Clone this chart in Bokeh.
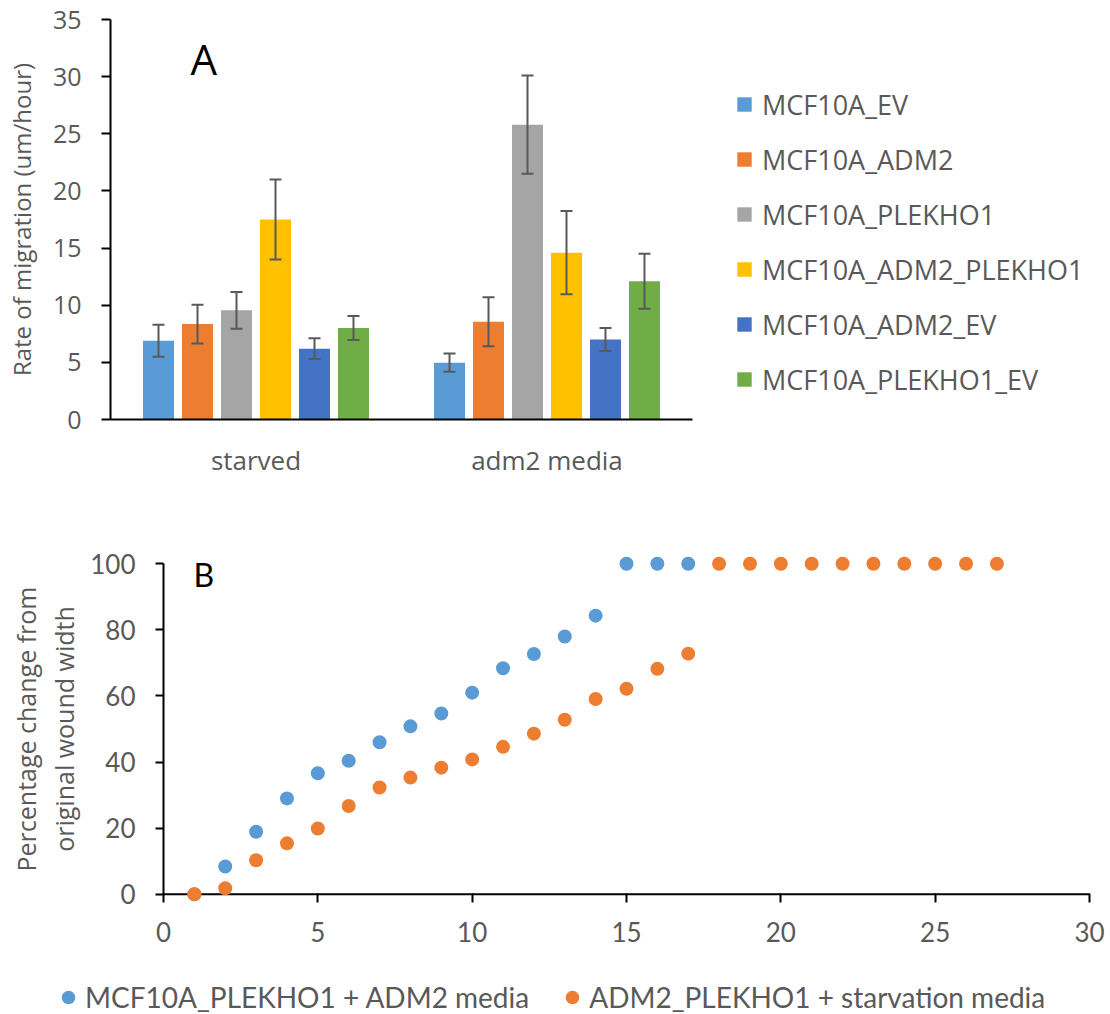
from bokeh.plotting import figure
from bokeh.models import (ColumnDataSource, FactorRange, Range1d, Legend, LegendItem,
                          Whisker, TeeHead, Label, LinearAxis, FixedTicker,
                          SingleIntervalTicker, Span)
from bokeh.layouts import column
from bokeh.transform import dodge
from bokeh.embed import file_html
from bokeh.resources import INLINE

# ---- Panel A: migration rate per cell line and medium ----
conditions = ["starved", "adm2 media"]
cell_lines = ["MCF10A_EV", "MCF10A_ADM2", "MCF10A_PLEKHO1",
              "MCF10A_ADM2_PLEKHO1", "MCF10A_ADM2_EV", "MCF10A_PLEKHO1_EV"]
bar_colors = ["#5B9BD5", "#ED7D31", "#A5A5A5", "#FFC000", "#4472C4", "#70AD47"]
rate_starved = [6.9, 8.35, 9.55, 17.5, 6.2, 8.0]
err_starved = [1.4, 1.7, 1.6, 3.5, 0.9, 1.05]
rate_adm2 = [4.97, 8.55, 25.8, 14.6, 7.0, 12.1]
err_adm2 = [0.8, 2.15, 4.3, 3.65, 1.0, 2.4]

# ---- Panel B: wound closure over time ----
time_plekho1 = [1, 2, 3, 4, 5, 6, 7, 8, 9, 10, 11, 12, 13, 14, 15, 16, 17]
closure_plekho1 = [0, 8.4, 18.9, 29.0, 36.6, 40.4, 46.0, 50.8, 54.7, 61.0,
                   68.4, 72.7, 78.0, 84.3, 100, 100, 100]
time_adm2 = [1, 2, 3, 4, 5, 6, 7, 8, 9, 10, 11, 12, 13, 14, 15, 16, 17,
             18, 19, 20, 21, 22, 23, 24, 25, 26, 27]
closure_adm2 = [0, 1.8, 10.3, 15.4, 19.9, 26.7, 32.3, 35.3, 38.3, 40.8,
                44.6, 48.6, 52.8, 59.1, 62.2, 68.2, 72.8,
                100, 100, 100, 100, 100, 100, 100, 100, 100, 100]
series_b = ["MCF10A_PLEKHO1 + ADM2 media", "ADM2_PLEKHO1 + starvation media"]
dot_colors = ["#5B9BD5", "#ED7D31"]

GREY = "#595959"
SANS = "Open Sans"
NARROW = "Lato"


def no_frame_align(p):
    try:
        p.frame_align = False
    except Exception:
        pass


# ================= Panel A =================
pa = figure(x_range=FactorRange(*conditions), y_range=Range1d(0, 35),
            frame_width=582, frame_height=400,
            min_border_left=110, min_border_right=418,
            min_border_top=19, min_border_bottom=101,
            output_backend="svg", toolbar_location=None)
pa.grid.visible = False
pa.outline_line_color = None
no_frame_align(pa)

step = 0.134
bar_w = 0.1065
items = []
for i, (name, col) in enumerate(zip(cell_lines, bar_colors)):
    rates = [rate_starved[i], rate_adm2[i]]
    errs = [err_starved[i], err_adm2[i]]
    src = ColumnDataSource(dict(
        cond=conditions, rate=rates,
        upper=[r + e for r, e in zip(rates, errs)],
        lower=[r - e for r, e in zip(rates, errs)]))
    off = (i - 2.5) * step
    r = pa.vbar(x=dodge("cond", off, range=pa.x_range), top="rate", width=bar_w,
                source=src, fill_color=col, line_color=None)
    w = Whisker(source=src, base=dodge("cond", off, range=pa.x_range),
                upper="upper", lower="lower", line_color=GREY, line_width=2,
                upper_head=TeeHead(size=12, line_color=GREY, line_width=2),
                lower_head=TeeHead(size=12, line_color=GREY, line_width=2),
                level="overlay")
    pa.add_layout(w)
    items.append(LegendItem(label=name, renderers=[r]))

ya = pa.yaxis[0]
ya.ticker = SingleIntervalTicker(interval=5)
ya.minor_tick_line_color = None
ya.major_tick_out = 9
ya.major_tick_in = 0
ya.axis_line_color = "black"
ya.axis_line_width = 2
ya.major_tick_line_color = "black"
ya.major_tick_line_width = 2
ya.major_label_text_font = SANS
ya.major_label_text_font_size = "25px"
ya.major_label_text_color = GREY
ya.major_label_standoff = 20
ya.axis_label = "Rate of migration (um/hour)"
ya.axis_label_text_font = SANS
ya.axis_label_text_font_size = "24px"
ya.axis_label_text_font_style = "normal"
ya.axis_label_text_color = GREY
ya.axis_label_standoff = 12

xa = pa.xaxis[0]
xa.axis_line_color = "black"
xa.axis_line_width = 2
xa.major_tick_line_color = None
xa.major_tick_out = 0
xa.major_tick_in = 0
xa.major_label_text_font = SANS
xa.major_label_text_font_size = "26px"
xa.major_label_text_color = GREY
xa.major_label_standoff = 22

# legend sits in the right-hand side panel, offset from the panel's lower-left
leg_a = Legend(items=items, location=(43, 20), orientation="vertical",
               glyph_width=18, glyph_height=18, label_height=40, spacing=15,
               label_standoff=9, padding=0, margin=0,
               label_text_font=SANS, label_text_font_size="27px",
               label_text_color=GREY, border_line_color=None,
               background_fill_alpha=0)
pa.add_layout(leg_a, "right")

pa.add_layout(Label(x=0.275, y=31.6, text="A", text_font=SANS,
                    text_font_size="42px", text_color="black",
                    text_baseline="alphabetic"))

# ================= Panel B =================
pb = figure(x_range=Range1d(0, 30), y_range=Range1d(-2.5, 102.5),
            frame_width=926, frame_height=347,
            min_border_left=163, min_border_right=21,
            min_border_top=35, min_border_bottom=58,
            output_backend="svg", toolbar_location=None)
pb.grid.visible = False
pb.outline_line_color = None
no_frame_align(pb)

# horizontal axis line drawn at y = 0, below the markers
pb.add_layout(Span(location=0, dimension="width", line_color="black",
                   line_width=2, level="underlay"))

pb.scatter(time_plekho1, closure_plekho1, size=14,
           fill_color=dot_colors[0], line_color=None)
pb.scatter(time_adm2, closure_adm2, size=14,
           fill_color=dot_colors[1], line_color=None)

xb = pb.xaxis[0]
xb.ticker = SingleIntervalTicker(interval=5)
xb.minor_tick_line_color = None
xb.axis_line_color = None
xb.major_tick_out = 0
xb.major_tick_in = 9
xb.major_tick_line_color = "black"
xb.major_tick_line_width = 2
xb.major_label_text_font = NARROW
xb.major_label_text_font_size = "26px"
xb.major_label_text_color = GREY
xb.major_label_standoff = 15

yb = pb.yaxis[0]
yb.ticker = SingleIntervalTicker(interval=20)
yb.bounds = (0, 100)
yb.minor_tick_line_color = None
yb.major_tick_out = 8
yb.major_tick_in = 0
yb.axis_line_color = "black"
yb.axis_line_width = 2
yb.major_tick_line_color = "black"
yb.major_tick_line_width = 2
yb.major_label_text_font = NARROW
yb.major_label_text_font_size = "26px"
yb.major_label_text_color = GREY
yb.major_label_standoff = 20
yb.axis_label = "original wound width"
yb.axis_label_text_font = SANS
yb.axis_label_text_font_size = "25px"
yb.axis_label_text_font_style = "normal"
yb.axis_label_text_color = GREY
yb.axis_label_standoff = 6

# outer line of the two-line y title
yb_outer = LinearAxis(ticker=FixedTicker(ticks=[]), axis_line_color=None,
                      major_tick_line_color=None, minor_tick_line_color=None,
                      major_tick_out=0, major_tick_in=0, major_label_standoff=0,
                      axis_label="Percentage change from",
                      axis_label_text_font=SANS, axis_label_text_font_size="25px",
                      axis_label_text_font_style="normal",
                      axis_label_text_color=GREY, axis_label_standoff=2)
pb.add_layout(yb_outer, "left")

pb.add_layout(Label(x=0.97, y=96.9, text="B", text_font=NARROW,
                    text_font_size="32px", text_color="black",
                    text_baseline="alphabetic"))

# ---- strip under panel B holding its horizontal legend ----
# The key renderers reuse the series data; the strip's ranges keep the points
# themselves out of view so only the legend entries show.
pl = figure(x_range=Range1d(200, 201), y_range=Range1d(200, 201),
            frame_width=1110, frame_height=54,
            min_border_left=0, min_border_right=0,
            min_border_top=0, min_border_bottom=0,
            x_axis_type=None, y_axis_type=None,
            output_backend="svg", toolbar_location=None)
pl.grid.visible = False
pl.outline_line_color = None
no_frame_align(pl)
key_renderers = [
    pl.scatter(time_plekho1, closure_plekho1, size=14,
               fill_color=dot_colors[0], line_color=None),
    pl.scatter(time_adm2, closure_adm2, size=14,
               fill_color=dot_colors[1], line_color=None),
]
leg_b = Legend(items=[LegendItem(label=lab, renderers=[kr])
                      for lab, kr in zip(series_b, key_renderers)],
               location=(51, 0), orientation="horizontal",
               glyph_width=34, glyph_height=34, label_height=34, spacing=26,
               label_standoff=0, padding=0, margin=0,
               label_text_font=NARROW, label_text_font_size="28px",
               label_text_color=GREY, border_line_color=None,
               background_fill_alpha=0)
pl.add_layout(leg_b, "center")

layout = column(pa, pb, pl, spacing=0)
open("out.html", "w").write(file_html(layout, INLINE))
